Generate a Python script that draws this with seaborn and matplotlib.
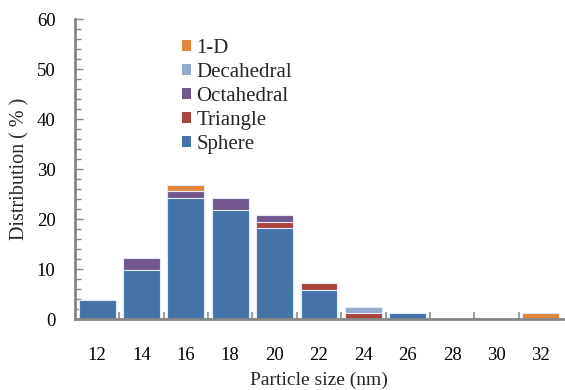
import matplotlib
matplotlib.use("Agg")
import matplotlib.pyplot as plt
import matplotlib.patches as mpatches
from matplotlib.ticker import MultipleLocator, FixedLocator, NullFormatter
import numpy as np
import pandas as pd
import seaborn as sns

sizes = ["12", "14", "16", "18", "20", "22", "24", "26", "28", "30", "32"]
sphere      = [3.8, 9.8, 24.3, 21.9, 18.3, 5.9, 0.0, 1.2, 0.0, 0.0, 0.0]
triangle    = [0.0, 0.0, 0.0, 0.0, 1.2, 1.4, 1.3, 0.0, 0.0, 0.0, 0.0]
octahedral  = [0.0, 2.5, 1.4, 2.4, 1.3, 0.0, 0.0, 0.0, 0.0, 0.0, 0.0]
decahedral  = [0.0, 0.0, 0.0, 0.0, 0.0, 0.0, 1.1, 0.0, 0.0, 0.0, 0.0]
one_d       = [0.0, 0.0, 1.2, 0.0, 0.0, 0.0, 0.0, 0.0, 0.0, 0.0, 1.2]

shapes = ["Sphere", "Triangle", "Octahedral", "Decahedral", "1-D"]
layers = [sphere, triangle, octahedral, decahedral, one_d]
colors = ["#4473A7", "#A9443F", "#72578E", "#93A9D0", "#E0853A"]

sns.set_theme(style="white")
plt.rcParams["font.family"] = ["Liberation Serif", "DejaVu Serif"]

fig = plt.figure(figsize=(5.65, 3.9), dpi=100)
ax = fig.add_axes([75 / 565, 1 - 319 / 390, 488 / 565, 300 / 390])

df = pd.DataFrame({"size": sizes})
cum = np.zeros(len(sizes))
for name, vals in zip(shapes, layers):
    cum = cum + np.array(vals)
    df[name] = cum

# stacked bars: draw cumulative totals from the top layer down
for name, col in reversed(list(zip(shapes, colors))):
    sns.barplot(data=df, x="size", y=name, color=col, width=0.83,
                edgecolor="#e4ebf5", linewidth=0.8, saturation=1,
                order=sizes, ax=ax)

ax.set_ylim(0, 60)
ax.set_xlim(-0.5, len(sizes) - 0.5)

ax.yaxis.set_major_locator(MultipleLocator(10))
ax.yaxis.set_minor_locator(MultipleLocator(2))
ax.xaxis.set_minor_locator(FixedLocator(np.arange(0.5, len(sizes) - 0.5, 1)))
ax.xaxis.set_minor_formatter(NullFormatter())

spine_col = "#868686"
for s in ["top", "right"]:
    ax.spines[s].set_visible(False)
for s in ["left", "bottom"]:
    ax.spines[s].set_color(spine_col)
    ax.spines[s].set_linewidth(2)

ax.tick_params(axis="y", which="major", direction="in", length=6, width=1,
               color=spine_col, left=True, pad=14, labelsize=13.5, labelcolor="black")
ax.tick_params(axis="y", which="minor", direction="in", length=4, width=1,
               color=spine_col, left=True)
ax.tick_params(axis="x", which="major", length=0, pad=20, labelsize=13.5,
               labelcolor="black")
ax.tick_params(axis="x", which="minor", direction="in", length=5, width=1.5,
               color="#a0a0a0", bottom=True)

ax.set_xlabel("Particle size (nm)", fontsize=14, labelpad=6)
ax.set_ylabel("Distribution ( % )", fontsize=14.5, labelpad=5)

handles = [mpatches.Patch(facecolor=c, edgecolor="none", label=n)
           for n, c in zip(shapes, colors)][::-1]
ax.legend(handles=handles, loc="upper left", bbox_to_anchor=(0.197, 0.967),
          frameon=False, fontsize=15, handlelength=0.45, handleheight=0.45,
          handletextpad=0.25, labelspacing=0.24, borderpad=0)

fig.savefig("out.png", dpi=100)
